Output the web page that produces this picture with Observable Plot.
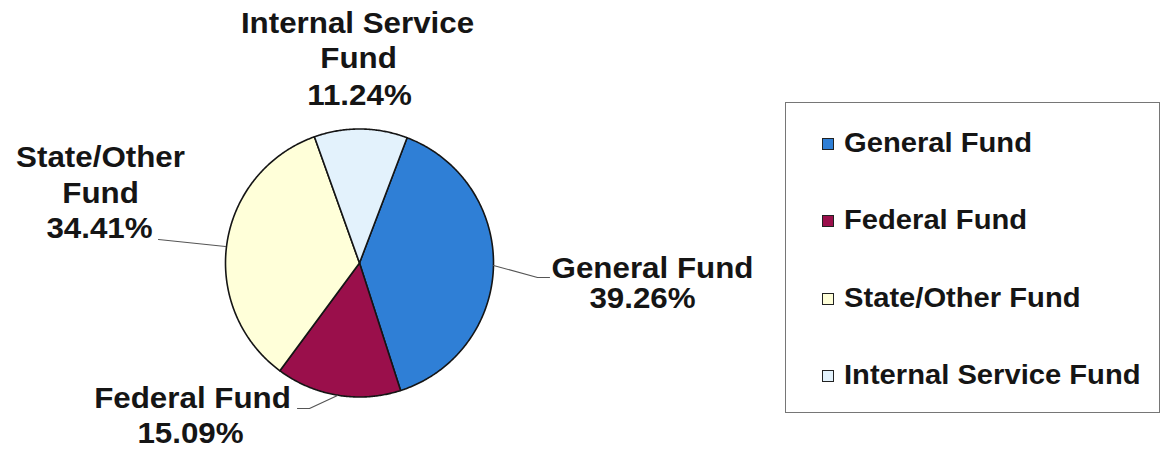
<!DOCTYPE html>
<html><head><meta charset="utf-8">
<script src="https://cdn.jsdelivr.net/npm/d3@7"></script>
<script src="https://cdn.jsdelivr.net/npm/@observablehq/plot@0.6"></script>
<style>
body{margin:0;background:#fff;font-family:"Liberation Sans",Arial,sans-serif;}
#wrap{position:relative;width:1161px;height:452px;overflow:hidden;}
#wrap svg{position:absolute;left:0;top:0;}
.legend{position:absolute;left:785px;top:102px;width:373px;height:309px;border:1.5px solid #767676;}
.item{position:absolute;left:0;height:27px;line-height:27px;white-space:nowrap;font-weight:bold;font-size:27px;color:#151515;}
.sw{position:absolute;width:10px;height:10px;border:1px solid #222;}
.txt{position:absolute;transform:scaleX(1.08);transform-origin:0 50%;}
</style></head><body><div id="wrap"></div>
<script>
// ---- data ----
const funds = ["General Fund", "Federal Fund", "State/Other Fund", "Internal Service Fund"];
const shares = [39.26, 15.09, 34.41, 11.24];
const fundColors = ["#2f7fd6", "#9a0f4b", "#ffffd9", "#e3f2fc"];
const labelNames = [["General Fund"], ["Federal Fund"], ["State/Other", "Fund"], ["Internal Service", "Fund"]];

// ---- layout ----
const W = 1161, H = 452;
const cx = 359, cy = 262.5, R = 134;
const startDeg = 20.8;
const fx = px => (px - cx) / R, fy = py => (cy - py) / R;
// per-label line positions (pixel layout): [centerX, baseline]
const labelLayout = [
  [[652, 278], [642, 308]],
  [[192, 408], [190, 443]],
  [[100, 167], [100, 203], [99, 238]],
  [[357, 33], [358, 68], [359, 105]]
];
const leaderLayout = [
  [[493, 265], [537, 277], [549, 277]],
  [[337, 395], [309, 408], [297, 408]],
  [[225, 246], [158, 239]],
  []
];

// ---- slices ----
const total = d3.sum(shares);
let acc = 0;
const slicePts = [];
funds.forEach((f, i) => {
  const a0 = startDeg + acc / total * 360; acc += shares[i];
  const a1 = startDeg + acc / total * 360;
  slicePts.push({fund: f, x: 0, y: 0});
  const n = Math.max(4, Math.ceil((a1 - a0) * 2));
  for (let k = 0; k <= n; k++) {
    const a = (a0 + (a1 - a0) * k / n) * Math.PI / 180;
    slicePts.push({fund: f, x: Math.sin(a), y: Math.cos(a)});
  }
  slicePts.push({fund: f, x: 0, y: 0});
});

const fontSize = 29;
const labelRows = [];
funds.forEach((f, i) => {
  const lines = [...labelNames[i], shares[i].toFixed(2) + "%"];
  lines.forEach((t, j) => {
    const [px, base] = labelLayout[i][j];
    labelRows.push({text: t, x: fx(px), y: fy(base - 0.32 * fontSize - 0.5)});
  });
});
const leaderPts = [];
funds.forEach((f, i) => leaderLayout[i].forEach(([px, py]) => leaderPts.push({fund: f, x: fx(px), y: fy(py)})));

const plot = Plot.plot({
  width: W, height: H,
  margin: 0,
  x: {domain: [-1, 1], range: [cx - R, cx + R], axis: null},
  y: {domain: [-1, 1], range: [cy + R, cy - R], axis: null},
  color: {domain: funds, range: fundColors},
  style: {background: "transparent", overflow: "visible"},
  marks: [
    Plot.line(slicePts, {x: "x", y: "y", z: "fund", fill: "fund", stroke: "#151515", strokeWidth: 1.6, strokeLinejoin: "round"}),
    Plot.line(leaderPts, {x: "x", y: "y", z: "fund", stroke: "#555", strokeWidth: 1.2}),
    Plot.text(labelRows, {x: "x", y: "y", text: "text", fontSize, fontWeight: "bold", fill: "#151515",
      textAnchor: "middle", lineAnchor: "middle", fontFamily: "Liberation Sans, Arial, sans-serif"})
  ]
});
plot.querySelectorAll("text").forEach(t => {
  const tr = t.getAttribute("transform");
  if (tr) t.setAttribute("transform", tr + " scale(1.08,1)");
});
const wrap = document.getElementById("wrap");
wrap.appendChild(plot);

// legend from the plot's color scale
const cs = plot.scale("color");
const leg = document.createElement("div");
leg.className = "legend";
const baselines = [152, 229, 307, 384];
cs.domain.forEach((f, i) => {
  const item = document.createElement("div");
  item.className = "item";
  item.style.top = (baselines[i] - 102 - 23) + "px";
  const sw = document.createElement("div");
  sw.className = "sw";
  sw.style.left = (822 - 786) + "px";
  sw.style.top = "8px";
  sw.style.background = cs.range[i];
  const tx = document.createElement("div");
  tx.className = "txt";
  tx.style.left = (844 - 786) + "px";
  tx.textContent = f;
  item.appendChild(sw); item.appendChild(tx);
  leg.appendChild(item);
});
wrap.appendChild(leg);
</script></body></html>
